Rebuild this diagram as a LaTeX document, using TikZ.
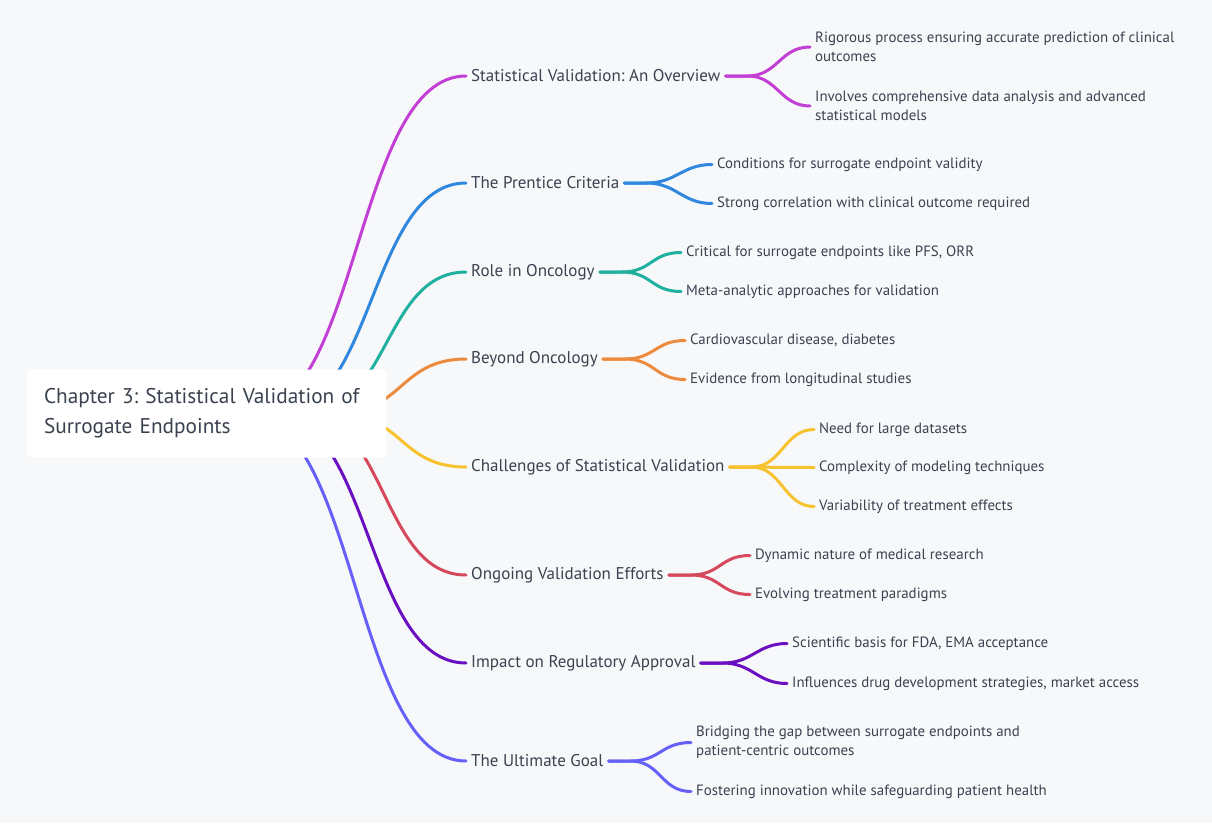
\documentclass[tikz,border=0pt]{standalone}
\usepackage{fontspec}
\setmainfont{PT Sans}
\usetikzlibrary{backgrounds}
\frenchspacing

\definecolor{paper}{HTML}{F7F8FA}
\definecolor{ink}{HTML}{3A4250}
\definecolor{cmagenta}{HTML}{C23FD6}
\definecolor{cblue}{HTML}{3088DE}
\definecolor{cteal}{HTML}{20B0A0}
\definecolor{corange}{HTML}{EC8A3D}
\definecolor{cyellow}{HTML}{F7C22E}
\definecolor{cred}{HTML}{D6495D}
\definecolor{cpurple}{HTML}{6B10C0}
\definecolor{cviolet}{HTML}{6660F9}

\begin{document}
\begin{tikzpicture}[x=1pt, y=-1pt,
                    every node/.style={text=ink},
                    root/.style={fill=white, rounded corners=4pt, minimum width=359pt, minimum height=88pt,
                                 text width=325pt, inner xsep=17pt, align=left, font=\fontsize{21.3}{30}\selectfont},
                    topic/.style={anchor=west, inner xsep=5pt, font=\fontsize{17}{19}\selectfont},
                    leaf/.style={anchor=west, inner xsep=5pt, align=left, font=\fontsize{14.9}{19}\selectfont},
                    branch/.style={line width=3pt, line cap=round}]
          \useasboundingbox (0,0) rectangle (1212,823);

          \node[root] (root) at (206.5,413.5) {Chapter 3: Statistical Validation of\\Surrogate Endpoints};

          \node[topic] (ov) at (466,76) {Statistical Validation: An Overview};
          \node[topic] (pc) at (466,183) {The Prentice Criteria};
          \node[topic] (onc) at (466,272) {Role in Oncology};
          \node[topic] (bey) at (466,359) {Beyond Oncology};
          \node[topic] (chal) at (466,467) {Challenges of Statistical Validation};
          \node[topic] (ong) at (466,575) {Ongoing Validation Efforts};
          \node[topic] (reg) at (466,663) {Impact on Regulatory Approval};
          \node[topic] (goal) at (466,761) {The Ultimate Goal};

          \node[leaf] (ov1) at (810,47) {Rigorous process ensuring accurate prediction of clinical\\outcomes};
          \node[leaf] (ov2) at (810,106) {Involves comprehensive data analysis and advanced\\statistical models};
          \node[leaf] (pc1) at (712,164.5) {Conditions for surrogate endpoint validity};
          \node[leaf] (pc2) at (712,203.5) {Strong correlation with clinical outcome required};
          \node[leaf] (onc1) at (681,252.5) {Critical for surrogate endpoints like PFS, ORR};
          \node[leaf] (onc2) at (681,291.5) {Meta-analytic approaches for validation};
          \node[leaf] (bey1) at (685,340.5) {Cardiovascular disease, diabetes};
          \node[leaf] (bey2) at (685,379.5) {Evidence from longitudinal studies};
          \node[leaf] (chal1) at (814,429.5) {Need for large datasets};
          \node[leaf] (chal2) at (814,467.5) {Complexity of modeling techniques};
          \node[leaf] (chal3) at (814,506.5) {Variability of treatment effects};
          \node[leaf] (ong1) at (750,555.5) {Dynamic nature of medical research};
          \node[leaf] (ong2) at (750,594.5) {Evolving treatment paradigms};
          \node[leaf] (reg1) at (787,643.5) {Scientific basis for FDA, EMA acceptance};
          \node[leaf] (reg2) at (787,683.5) {Influences drug development strategies, market access};
          \node[leaf] (goal1) at (691,742.5) {Bridging the gap between surrogate endpoints and\\patient-centric outcomes};
          \node[leaf] (goal2) at (691,791.5) {Fostering innovation while safeguarding patient health};

          \begin{pgfonlayer}{background}
            \fill[paper] (0,0) rectangle (1212,823);
            % root to topics
            \draw[branch, cmagenta] ([xshift=42.5pt]root.center) .. controls +(111,0) and +(-111,0) .. (ov.west);
            \draw[branch, cblue] ([xshift=71.5pt]root.center) .. controls +(96,0) and +(-96,0) .. (pc.west);
            \draw[branch, cteal] ([xshift=100.5pt]root.center) .. controls +(82,0) and +(-82,0) .. (onc.west);
            \draw[branch, corange] ([xshift=129.5pt]root.center) .. controls +(67,0) and +(-67,0) .. (bey.west);
            \draw[branch, cyellow] ([xshift=129.5pt]root.center) .. controls +(67,0) and +(-67,0) .. (chal.west);
            \draw[branch, cred] ([xshift=95.5pt]root.center) .. controls +(85,0) and +(-85,0) .. (ong.west);
            \draw[branch, cpurple] ([xshift=65.5pt]root.center) .. controls +(100,0) and +(-100,0) .. (reg.west);
            \draw[branch, cviolet] ([xshift=38.5pt]root.center) .. controls +(113,0) and +(-113,0) .. (goal.west);
            % topics to leaves
            \draw[branch, cmagenta] (ov.east) -- ++(22,0) .. controls +(30,0) and +(-30,0) .. (ov1.west);
            \draw[branch, cmagenta] (ov.east) -- ++(22,0) .. controls +(30,0) and +(-30,0) .. (ov2.west);
            \draw[branch, cblue] (pc.east) -- ++(22,0) .. controls +(30,0) and +(-30,0) .. (pc1.west);
            \draw[branch, cblue] (pc.east) -- ++(22,0) .. controls +(30,0) and +(-30,0) .. (pc2.west);
            \draw[branch, cteal] (onc.east) -- ++(22,0) .. controls +(30,0) and +(-30,0) .. (onc1.west);
            \draw[branch, cteal] (onc.east) -- ++(22,0) .. controls +(30,0) and +(-30,0) .. (onc2.west);
            \draw[branch, corange] (bey.east) -- ++(22,0) .. controls +(30,0) and +(-30,0) .. (bey1.west);
            \draw[branch, corange] (bey.east) -- ++(22,0) .. controls +(30,0) and +(-30,0) .. (bey2.west);
            \draw[branch, cyellow] (chal.east) -- ++(22,0) .. controls +(30,0) and +(-30,0) .. (chal1.west);
            \draw[branch, cyellow] (chal.east) -- (chal2.west);
            \draw[branch, cyellow] (chal.east) -- ++(22,0) .. controls +(30,0) and +(-30,0) .. (chal3.west);
            \draw[branch, cred] (ong.east) -- ++(22,0) .. controls +(30,0) and +(-30,0) .. (ong1.west);
            \draw[branch, cred] (ong.east) -- ++(22,0) .. controls +(30,0) and +(-30,0) .. (ong2.west);
            \draw[branch, cpurple] (reg.east) -- ++(22,0) .. controls +(30,0) and +(-30,0) .. (reg1.west);
            \draw[branch, cpurple] (reg.east) -- ++(22,0) .. controls +(30,0) and +(-30,0) .. (reg2.west);
            \draw[branch, cviolet] (goal.east) -- ++(22,0) .. controls +(30,0) and +(-30,0) .. (goal1.west);
            \draw[branch, cviolet] (goal.east) -- ++(22,0) .. controls +(30,0) and +(-30,0) .. (goal2.west);
          \end{pgfonlayer}
        \end{tikzpicture}
\end{document}
